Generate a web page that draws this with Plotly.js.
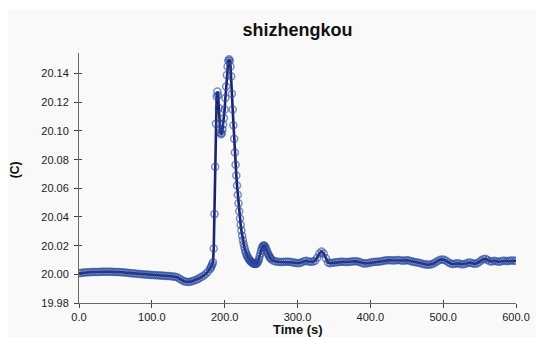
<!DOCTYPE html>
<html>
<head>
<meta charset="utf-8">
<script src="https://cdn.plot.ly/plotly-3.0.1.min.js"></script>
<style>
  html, body { margin: 0; padding: 0; background: #ffffff; }
  #chart { width: 536px; height: 337px; }
</style>
</head>
<body>
<div id="chart"></div>
<script>
// Temperature record at the shizhengkou station, 0-600 s.
// Time stamps (s): 3 s steps before and after the event, 1 s steps through it.
const timeSec = [
  0, 3, 6, 9, 12, 15, 18, 21, 24, 27, 30, 33, 36, 39, 42, 45, 48, 51, 54, 57,
  60, 63, 66, 69, 72, 75, 78, 81, 84, 87, 90, 93, 96, 99, 102, 105, 108, 111, 114, 117,
  120, 123, 126, 129, 132, 135, 138, 141, 144, 147, 150, 153, 156, 159, 162, 165, 168, 171, 174, 177,
  180, 181, 182, 183, 184, 185, 186, 187, 188, 189, 190, 191, 192, 193, 194, 195, 196, 197, 198, 199,
  200, 201, 202, 203, 204, 205, 206, 207, 208, 209, 210, 211, 212, 213, 214, 215, 216, 217, 218, 219,
  220, 221, 222, 223, 224, 225, 226, 227, 228, 229, 230, 231, 232, 233, 234, 235, 236, 237, 238, 239,
  240, 241, 242, 243, 244, 245, 246, 247, 248, 249, 250, 251, 252, 253, 254, 255, 256, 257, 258, 259,
  260, 261, 262, 263, 264, 267, 270, 273, 276, 279, 282, 285, 288, 291, 294, 297,
  300, 303, 306, 309, 312, 315, 318, 321, 324, 327, 330, 333, 336, 339, 342, 345, 348, 351, 354, 357,
  360, 363, 366, 369, 372, 375, 378, 381, 384, 387, 390, 393, 396, 399, 402, 405, 408, 411, 414, 417,
  420, 423, 426, 429, 432, 435, 438, 441, 444, 447, 450, 453, 456, 459, 462, 465, 468, 471, 474, 477,
  480, 483, 486, 489, 492, 495, 498, 501, 504, 507, 510, 513, 516, 519, 522, 525, 528, 531, 534, 537,
  540, 543, 546, 549, 552, 555, 558, 561, 564, 567, 570, 573, 576, 579, 582, 585, 588, 591, 594, 597,
  600
];

// Temperature (C) at each time stamp.
const tempC = [
  20.0008, 20.0010, 20.0012, 20.0013, 20.0014, 20.0015, 20.0016, 20.0016, 20.0017, 20.0017,
  20.0018, 20.0018, 20.0018, 20.0018, 20.0018, 20.0018, 20.0017, 20.0017, 20.0016, 20.0015,
  20.0014, 20.0012, 20.0011, 20.0009, 20.0008, 20.0006, 20.0005, 20.0003, 20.0002, 20.0001,
  19.9999, 19.9998, 19.9997, 19.9996, 19.9995, 19.9994, 19.9993, 19.9992, 19.9991, 19.9990,
  19.9989, 19.9988, 19.9987, 19.9985, 19.9983, 19.9979, 19.9970, 19.9960, 19.9952, 19.9948,
  19.9947, 19.9949, 19.9953, 19.9958, 19.9964, 19.9972, 19.9981, 19.9990, 20.0002, 20.0018,
  20.0038, 20.0047, 20.0058, 20.0070, 20.0085, 20.0180, 20.0420, 20.0750, 20.1050, 20.1240,
  20.1275, 20.1250, 20.1160, 20.1050, 20.0990, 20.0978, 20.0985, 20.1010, 20.1045, 20.1090,
  20.1150, 20.1230, 20.1310, 20.1390, 20.1450, 20.1490, 20.1500, 20.1490, 20.1450, 20.1380,
  20.1260, 20.1150, 20.1040, 20.0945, 20.0850, 20.0765, 20.0690, 20.0620, 20.0555, 20.0495,
  20.0440, 20.0390, 20.0345, 20.0305, 20.0270, 20.0240, 20.0213, 20.0190, 20.0170, 20.0153,
  20.0139, 20.0127, 20.0117, 20.0108, 20.0101, 20.0095, 20.0090, 20.0085, 20.0081, 20.0078,
  20.0075, 20.0073, 20.0072, 20.0073, 20.0076, 20.0082, 20.0092, 20.0106, 20.0124, 20.0145,
  20.0165, 20.0182, 20.0194, 20.0200, 20.0201, 20.0197, 20.0188, 20.0176, 20.0162, 20.0150,
  20.0139, 20.0129, 20.0120, 20.0112, 20.0105, 20.0094, 20.0089, 20.0087, 20.0086, 20.0086,
  20.0087, 20.0088, 20.0088, 20.0086, 20.0083, 20.0080,
  20.0078, 20.0079, 20.0085, 20.0092, 20.0094, 20.0090, 20.0087, 20.0088, 20.0095, 20.0115,
  20.0145, 20.0160, 20.0145, 20.0110, 20.0082, 20.0078, 20.0080, 20.0082, 20.0084, 20.0086,
  20.0087, 20.0087, 20.0086, 20.0086, 20.0088, 20.0090, 20.0092, 20.0091, 20.0087, 20.0082,
  20.0078, 20.0076, 20.0077, 20.0080, 20.0084, 20.0086, 20.0087, 20.0088, 20.0090, 20.0093,
  20.0096, 20.0098, 20.0099, 20.0098, 20.0097, 20.0099, 20.0100, 20.0098, 20.0095, 20.0096,
  20.0098, 20.0096, 20.0092, 20.0088, 20.0085, 20.0083, 20.0079, 20.0074, 20.0070, 20.0068,
  20.0067, 20.0069, 20.0074, 20.0082, 20.0092, 20.0100, 20.0104, 20.0102, 20.0094, 20.0084,
  20.0076, 20.0072, 20.0074, 20.0078, 20.0076, 20.0071, 20.0070, 20.0074, 20.0080, 20.0082,
  20.0078, 20.0074, 20.0076, 20.0084, 20.0096, 20.0106, 20.0108, 20.0100, 20.0092, 20.0090,
  20.0094, 20.0092, 20.0088, 20.0090, 20.0094, 20.0095, 20.0092, 20.0094, 20.0096, 20.0095,
  20.0094
];

const xTickVals = [0, 100, 200, 300, 400, 500, 600];
const xTickText = ["0.0", "100.0", "200.0", "300.0", "400.0", "500.0", "600.0"];
const yTickVals = [19.98, 20.00, 20.02, 20.04, 20.06, 20.08, 20.10, 20.12, 20.14];
const yTickText = ["19.98", "20.00", "20.02", "20.04", "20.06", "20.08", "20.10", "20.12", "20.14"];

const FONT = "Liberation Sans, Arial, sans-serif";
const xRange = [0, 600];
const yRange = [19.98, 20.1544];

const series = {
  x: timeSec,
  y: tempC,
  type: "scatter",
  mode: "lines+markers",
  line: { color: "#1d236c", width: 2.6 },
  marker: {
    symbol: "circle-open",
    size: 7,
    color: "rgba(40,70,155,0.6)",
    line: { width: 1.5 }
  },
  hoverinfo: "x+y",
  showlegend: false
};

// Same data on an overlaid pair of axes, invisible, so the inner tick marks render.
const tickCarrier = {
  x: timeSec,
  y: tempC,
  xaxis: "x2",
  yaxis: "y2",
  type: "scatter",
  mode: "lines",
  line: { color: "rgba(0,0,0,0)", width: 0 },
  hoverinfo: "skip",
  showlegend: false
};

const axisCommon = {
  showgrid: false,
  zeroline: false,
  showline: true,
  linecolor: "#6a6a6a",
  linewidth: 1,
  tickcolor: "#444444",
  tickwidth: 1,
  tickmode: "array",
  tickfont: { family: FONT, size: 11, color: "#222222" },
  fixedrange: true
};

const layout = {
  width: 536,
  height: 337,
  margin: { l: 79, r: 20, t: 53, b: 34 },
  paper_bgcolor: "#ffffff",
  plot_bgcolor: "rgba(0,0,0,0)",
  title: {
    text: "shizhengkou",
    font: { family: FONT, size: 18, color: "#111111", weight: "bold" },
    xref: "paper", x: 0.5, xanchor: "center",
    yref: "container", y: 1 - 30 / 337, yanchor: "middle"
  },
  xaxis: Object.assign({}, axisCommon, {
    range: xRange,
    tickvals: xTickVals, ticktext: xTickText,
    ticks: "outside", ticklen: 4
  }),
  yaxis: Object.assign({}, axisCommon, {
    range: yRange,
    tickvals: yTickVals, ticktext: yTickText,
    ticks: "outside", ticklen: 4,
    ticklabelstandoff: 3
  }),
  xaxis2: Object.assign({}, axisCommon, {
    overlaying: "x", anchor: "y2", side: "bottom",
    range: xRange, tickvals: xTickVals, ticktext: xTickText,
    ticks: "inside", ticklen: 3, showticklabels: false, showline: false
  }),
  yaxis2: Object.assign({}, axisCommon, {
    overlaying: "y", anchor: "x2", side: "left",
    range: yRange, tickvals: yTickVals, ticktext: yTickText,
    ticks: "inside", ticklen: 3, showticklabels: false, showline: false
  }),
  shapes: [{
    type: "rect", xref: "paper", yref: "paper", layer: "below",
    x0: (8 - 79) / 437, x1: 1.1, y0: -0.2, y1: (303.3 - 9) / 250,
    fillcolor: "#f9f9f9", line: { width: 0 }
  }],
  annotations: [
    {
      text: "(C)", xref: "paper", yref: "paper",
      x: (15 - 79) / 437, y: (303.3 - 170.5) / 250,
      xanchor: "center", yanchor: "middle", textangle: -90, showarrow: false,
      font: { family: FONT, size: 12, color: "#111111", weight: "bold" }
    },
    {
      text: "Time (s)", xref: "paper", yref: "paper",
      x: 0.5, y: (303.3 - 329.5) / 250,
      xanchor: "center", yanchor: "middle", showarrow: false,
      font: { family: FONT, size: 13, color: "#111111", weight: "bold" }
    }
  ]
};

Plotly.newPlot("chart", [tickCarrier, series], layout, { staticPlot: true, displayModeBar: false });
</script>
</body>
</html>
